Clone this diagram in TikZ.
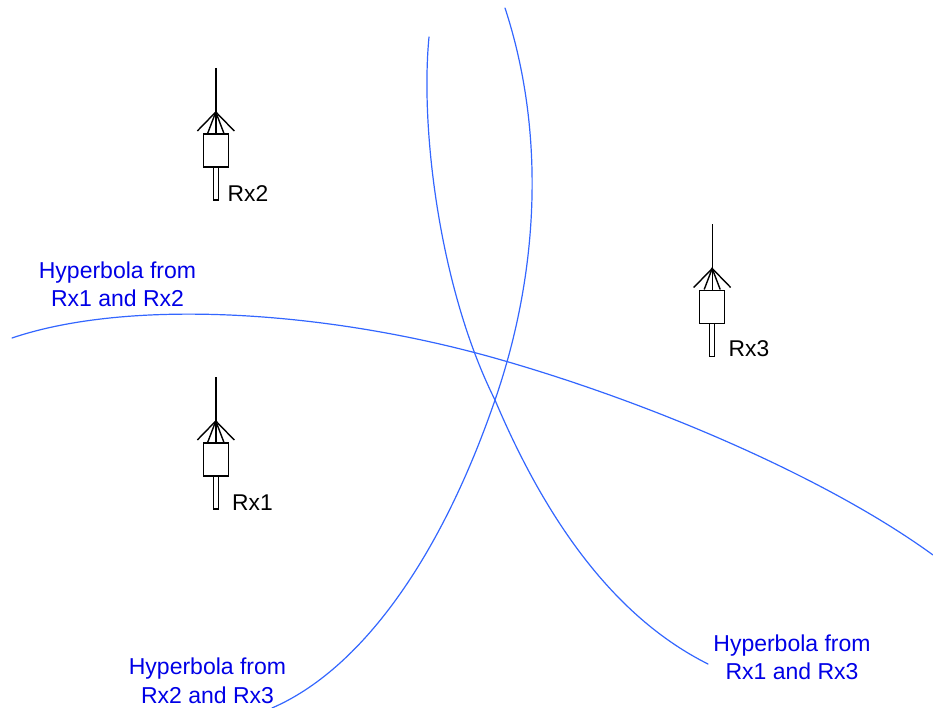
\documentclass[tikz,border=0pt]{standalone}
\usepackage{fontspec}
\setmainfont{Liberation Sans}
\definecolor{curveblue}{RGB}{51,102,255}
\definecolor{labelblue}{RGB}{0,0,230}
\tikzset{
  x=1pt,y=-1pt,
  hyper/.style={draw=curveblue,line width=1.2pt,line cap=round},
  ant/.style={draw=black,line width=1.4pt},
  rxlabel/.style={font=\fontsize{22.8}{26}\selectfont,text=black,inner sep=0pt},
  hyplabel/.style={font=\fontsize{23}{28.5}\selectfont,text=labelblue,inner sep=0pt,align=center},
  pics/receiver/.style={code={
    \draw[ant] (0,-70)--(0,-26);
    \draw[ant] (-18.5,-7)--(0,-26)--(18.5,-7);
    \draw[ant] (-8,-5)--(0,-26)--(8,-5);
    \draw[ant] (0,-26)--(0,-4);
    \draw[ant,fill=white] (-12.5,-4) rectangle (12.5,29);
    \draw[ant,fill=white] (-2.5,29) rectangle (2.5,62);
  }}
}
\begin{document}
\begin{tikzpicture}
\useasboundingbox (0,0) rectangle (933,708);
\pic at (215.8,138) {receiver};
\pic at (215.8,447) {receiver};
\pic at (712.2,294.5) {receiver};
\node[rxlabel,anchor=west] (rx2) at (227.5,193.5) {Rx2};
\node[rxlabel,anchor=west] (rx1) at (232,502.5) {Rx1};
\node[rxlabel,anchor=west] (rx3) at (728.5,349) {Rx3};
\node[hyplabel] (h12) at (117.5,284.5) {Hyperbola from\\Rx1 and Rx2};
\node[hyplabel] (h23) at (207.5,681) {Hyperbola from\\Rx2 and Rx3};
\node[hyplabel] (h13) at (792,657.5) {Hyperbola from\\Rx1 and Rx3};
\draw[hyper] (12,338) .. controls (130,298) and (330,310) .. (505,361)
  .. controls (660,406) and (830,480) .. (933,555);
\draw[hyper] (505,8) .. controls (545,130) and (540,270) .. (495,400)
  .. controls (440,560) and (360,670) .. (272,708);
\draw[hyper] (429,37) .. controls (420,130) and (440,290) .. (495,400)
  .. controls (550,530) and (620,620) .. (708,664);
\end{tikzpicture}
\end{document}
